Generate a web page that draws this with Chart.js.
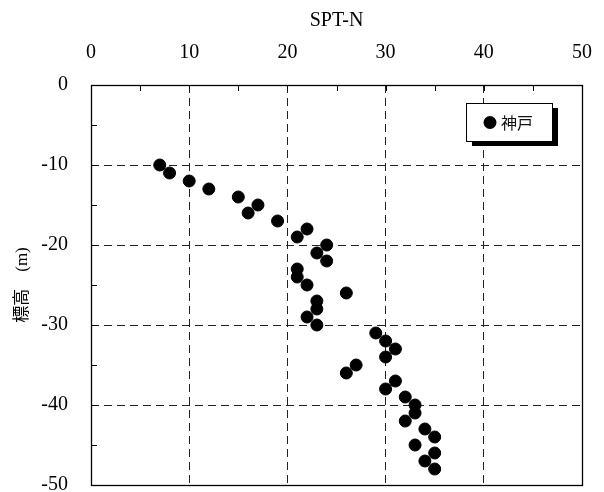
<!DOCTYPE html>
<html lang="ja">
<head>
<meta charset="utf-8">
<title>SPT-N 神戸</title>
<script src="https://cdn.jsdelivr.net/npm/chart.js@4.4.1/dist/chart.umd.min.js"></script>
<style>
  html, body { margin: 0; padding: 0; background: #fff; }
  #grafico { display: block; }
</style>
</head>
<body>
<canvas id="grafico" width="604" height="492"></canvas>
<script>
// 標高ごとの N 値（神戸）
const serieNombre = '神戸';
const profundidades = [-10, -11, -12, -13, -14, -15, -16, -17, -18, -19,
                       -20, -21, -22, -23, -24, -25, -26, -27, -28, -29,
                       -30, -31, -32, -33, -34, -35, -36, -37, -38, -39,
                       -40, -41, -42, -43, -44, -45, -46, -47, -48];
const valoresN = [7, 8, 10, 12, 15, 17, 16, 19, 22, 21,
                  24, 23, 24, 21, 21, 22, 26, 23, 23, 22,
                  23, 29, 30, 31, 30, 27, 26, 31, 30, 32,
                  33, 33, 32, 34, 35, 33, 35, 34, 35];

// ejes
const rangoX = [0, 50];
const rangoY = [-50, 0];
const pasoEtiquetas = 10;
const pasoMarcas = 5;

const fuenteSerif = "'Liberation Serif', 'Times New Roman', serif";
const fuenteJP = "'Noto Sans CJK JP', 'Noto Sans', sans-serif";

// línea de guía discontinua solo en el interior (no en los bordes)
function colorGuia(ctx, min, max) {
    const v = ctx.tick ? ctx.tick.value : null;
    if (v === null || v === min || v === max) return 'rgba(0,0,0,0)';
    return '#222';
}

// marco del área + marcas cortas hacia dentro cada 5
const marcoPlugin = {
    id: 'marco',
    afterDatasetsDraw(chart) {
        const { ctx, chartArea: a, scales: { x, y } } = chart;
        ctx.save();
        ctx.strokeStyle = '#000';
        ctx.lineWidth = 1;
        ctx.beginPath();
        for (let v = rangoX[0] + pasoMarcas; v < rangoX[1]; v += pasoMarcas) {
            const px = Math.round(x.getPixelForValue(v)) + 0.5;
            ctx.moveTo(px, a.top);
            ctx.lineTo(px, a.top + 6);
        }
        for (let v = rangoY[0] + pasoMarcas; v < rangoY[1]; v += pasoMarcas) {
            const py = Math.round(y.getPixelForValue(v)) + 0.5;
            ctx.moveTo(a.left, py);
            ctx.lineTo(a.left + 6, py);
        }
        ctx.stroke();
        ctx.lineWidth = 1.3;
        ctx.strokeRect(Math.round(a.left) + 0.5, Math.round(a.top) + 0.5,
                       Math.round(a.right - a.left), Math.round(a.bottom - a.top));
        ctx.restore();
    }
};

// leyenda con sombra dentro del área
const leyendaPlugin = {
    id: 'leyendaSombra',
    afterDraw(chart) {
        const { ctx } = chart;
        const ds = chart.data.datasets[0];
        const bx = 466, by = 103, bw = 86, bh = 38;
        ctx.save();
        ctx.fillStyle = '#000';
        ctx.fillRect(bx + 6, by + 5, bw, bh);
        ctx.fillStyle = '#fff';
        ctx.fillRect(bx, by, bw, bh);
        ctx.strokeStyle = '#000';
        ctx.lineWidth = 1;
        ctx.strokeRect(bx + 0.5, by + 0.5, bw, bh);
        ctx.beginPath();
        ctx.arc(bx + 24, by + 19.5, 6.5, 0, Math.PI * 2);
        ctx.fillStyle = ds.backgroundColor;
        ctx.fill();
        ctx.fillStyle = '#111';
        ctx.font = '16px ' + fuenteJP;
        ctx.textBaseline = 'middle';
        ctx.textAlign = 'left';
        ctx.fillText(ds.label, bx + 35, by + 19.5);
        ctx.restore();
    }
};

function crearGrafico() {
    const puntos = profundidades.map((d, i) => ({ x: valoresN[i], y: d }));
    const ctx = document.getElementById('grafico').getContext('2d');
    new Chart(ctx, {
        type: 'scatter',
        data: {
            datasets: [{
                label: serieNombre,
                data: puntos,
                backgroundColor: '#000',
                borderColor: '#000',
                borderWidth: 1,
                pointRadius: 6,
                pointHoverRadius: 6
            }]
        },
        options: {
            responsive: false,
            animation: false,
            events: [],
            layout: { padding: { left: 0, top: 0, right: 22, bottom: 6 } },
            plugins: {
                legend: { display: false },
                tooltip: { enabled: false }
            },
            scales: {
                x: {
                    type: 'linear',
                    position: 'top',
                    min: rangoX[0],
                    max: rangoX[1],
                    afterFit: (s) => { s.height = 85; s.paddingLeft = 0; s.paddingRight = 0; },
                    ticks: {
                        stepSize: pasoEtiquetas,
                        color: '#000',
                        padding: 20,
                        maxRotation: 0,
                        font: { family: fuenteSerif, size: 20 }
                    },
                    grid: {
                        drawTicks: false,
                        color: (c) => colorGuia(c, rangoX[0], rangoX[1]),
                        lineWidth: 1
                    },
                    border: { display: false, dash: [8, 5] },
                    title: {
                        display: true,
                        text: 'SPT-N',
                        color: '#000',
                        font: { family: fuenteSerif, size: 20 },
                        padding: { top: 9, bottom: 0 }
                    }
                },
                y: {
                    type: 'linear',
                    min: rangoY[0],
                    max: rangoY[1],
                    afterFit: (s) => { s.width = 91; s.paddingTop = 0; s.paddingBottom = 0; },
                    ticks: {
                        stepSize: pasoEtiquetas,
                        color: '#000',
                        padding: 23,
                        font: { family: fuenteSerif, size: 20 }
                    },
                    grid: {
                        drawTicks: false,
                        color: (c) => colorGuia(c, rangoY[0], rangoY[1]),
                        lineWidth: 1
                    },
                    border: { display: false, dash: [8, 5] },
                    title: {
                        display: true,
                        text: '標高　(m)',
                        color: '#000',
                        font: { family: fuenteSerif + ", 'Noto Sans CJK JP'", size: 17 },
                        padding: { top: 12, bottom: 0 }
                    }
                }
            }
        },
        plugins: [marcoPlugin, leyendaPlugin]
    });
}

document.addEventListener('DOMContentLoaded', function () {
    crearGrafico();
});
</script>
</body>
</html>
